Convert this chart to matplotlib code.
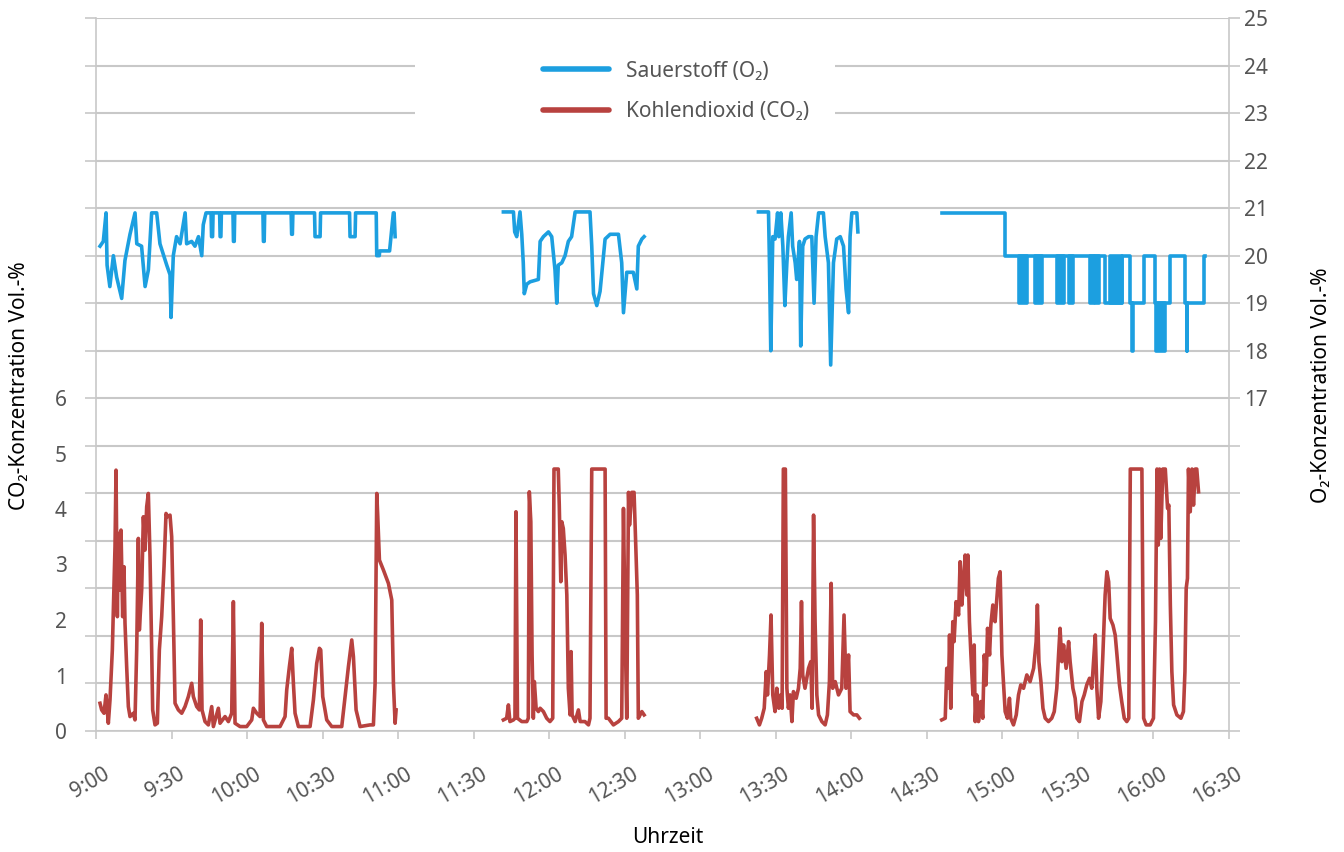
"""
Sauerstoff- und Kohlendioxid-Konzentration im Tagesverlauf.
"""

import matplotlib
matplotlib.use("Agg")
import matplotlib.pyplot as plt
from matplotlib.patches import Rectangle
from matplotlib.transforms import ScaledTranslation

plt.rcParams['font.family'] = ['Noto Sans', 'DejaVu Sans']

# Zeit in Minuten nach 9:00 Uhr
zeit_ticks = list(range(0, 451, 30))
zeit_labels = ["9:00", "9:30", "10:00", "10:30", "11:00", "11:30", "12:00", "12:30",
               "13:00", "13:30", "14:00", "14:30", "15:00", "15:30", "16:00", "16:30"]

# --- Sauerstoff (O2), Vol.-% ---
o2_t1 = [1.6, 2.9, 4.0, 4.4, 5.5, 6.9, 8.2, 10.2, 11.5, 13.5, 15.5, 16.2, 18.1, 19.5,
         20.8, 22.1, 24.1, 25.4, 28.1, 29.4, 29.8, 30.7, 32.0, 33.4, 35.4, 36.0, 38.0,
         39.3, 40.7, 42.0, 42.6, 43.7, 45.7, 45.9, 46.3, 46.5, 49.1, 49.3, 49.6, 49.8,
         54.4, 54.6, 54.9, 55.1, 66.3, 66.5, 66.8, 67.0, 77.5, 77.7, 78.0, 78.2, 86.8,
         87.0, 89.0, 89.2, 100.7, 100.9, 102.9, 103.1, 111.3, 111.5, 112.5, 112.7,
         116.6, 118.1, 118.4, 118.8]
o2_v1 = [20.2, 20.3, 20.9, 19.8, 19.35, 20.0, 19.55, 19.1, 19.9, 20.45, 20.9, 20.25,
         20.2, 19.35, 19.7, 20.9, 20.9, 20.25, 19.8, 19.6, 18.7, 20.0, 20.4, 20.25,
         20.9, 20.25, 20.3, 20.2, 20.4, 20.0, 20.65, 20.9, 20.9, 20.4, 20.4, 20.9,
         20.9, 20.4, 20.4, 20.9, 20.9, 20.3, 20.3, 20.9, 20.9, 20.3, 20.3, 20.9, 20.9,
         20.45, 20.45, 20.9, 20.9, 20.4, 20.4, 20.9, 20.9, 20.4, 20.4, 20.9, 20.9,
         20.0, 20.0, 20.1, 20.1, 20.9, 20.9, 20.4]

o2_t2 = [161.8, 165.8, 166.3, 167.1, 168.4, 169.1, 169.7, 170.1, 171.1, 172.4, 175.7,
         176.4, 177.7, 179.7, 181.0, 182.3, 183.0, 183.6, 185.0, 186.3, 187.6, 188.9,
         190.3, 196.2, 196.9, 197.6, 198.9, 200.2, 202.2, 204.2, 207.5, 208.8, 209.5,
         210.8, 212.1, 213.4, 214.8, 215.4, 216.8, 217.7]
o2_v2 = [20.92, 20.92, 20.5, 20.4, 20.92, 20.45, 19.85, 19.2, 19.4, 19.45, 19.5, 20.3,
         20.4, 20.5, 20.4, 19.7, 19.0, 19.8, 19.85, 20.0, 20.3, 20.4, 20.92, 20.92,
         20.2, 19.2, 18.95, 19.25, 20.35, 20.45, 20.45, 19.85, 18.8, 19.65, 19.65,
         19.65, 19.3, 20.2, 20.35, 20.4]

o2_t3 = [263.1, 267.1, 267.5, 268.0, 268.8, 269.7, 270.7, 271.2, 272.0, 272.8, 273.6,
         274.4, 275.0, 276.1, 276.7, 277.7, 278.3, 279.4, 279.9, 280.7, 281.6, 283.0,
         284.3, 285.2, 286.0, 287.0, 288.9, 289.6, 290.9, 291.8, 292.9, 294.2, 295.6,
         296.9, 297.9, 298.9, 299.5, 300.2, 302.2, 302.6]
o2_v3 = [20.92, 20.92, 19.8, 18.0, 20.4, 20.35, 20.9, 20.4, 20.9, 20.2, 18.95, 19.85,
         20.4, 20.9, 20.2, 19.85, 19.5, 20.3, 18.1, 20.2, 20.35, 20.4, 20.4, 19.0, 20.4,
         20.9, 20.9, 20.4, 19.85, 17.7, 19.85, 20.35, 20.4, 20.2, 19.3, 18.8, 20.4,
         20.9, 20.9, 20.5]

# Segment 4 als Treppenkurve
o2_t4 = [335.9, 361.1, 400.8, 407.4, 410.8, 411.4, 411.7, 416.1, 420.7, 426.7, 432.6,
         433.2, 433.5, 439.9, 440.6]
o2_v4 = [20.9, 20.0, 19.0, 20.0, 19.0, 18.0, 19.0, 20.0, 19.0, 20.0, 19.0, 18.0, 19.0,
         20.0, 20.0]
# dicht schwankende Abschnitte (erscheinen als gefuellte Bloecke)
o2_blk_start = [366.4, 373.0, 381.6, 386.3, 394.9, 396.9, 402.8, 421.1]
o2_blk_end = [369.7, 375.7, 384.3, 388.2, 396.2, 398.2, 407.4, 424.7]
o2_blk_low = [19.0, 19.0, 19.0, 19.0, 19.0, 19.0, 19.0, 18.0]
o2_blk_high = [20.0, 20.0, 20.0, 20.0, 20.0, 20.0, 20.0, 19.0]

# --- Kohlendioxid (CO2), Vol.-% ---
co2_t1 = [1.59, 2.25, 3.18, 3.97, 4.90, 5.56, 6.49, 6.89, 7.55, 7.95, 8.48, 8.87, 9.54,
          9.93, 10.59, 11.12, 11.52, 12.18, 12.85, 13.51, 14.83, 15.49, 16.16, 16.82,
          17.22, 18.14, 18.81, 19.47, 20.13, 20.79, 21.45, 22.12, 22.51, 23.44, 24.37,
          25.16, 26.09, 27.02, 27.81, 28.34, 29.40, 30.06, 30.72, 31.39, 32.71, 34.04,
          35.36, 36.68, 38.01, 38.67, 39.99, 41.05, 41.58, 42.11, 43.30, 44.63, 45.95,
          46.62, 48.60, 49.26, 51.25, 52.58, 53.90, 54.56, 55.22, 57.21, 59.86, 61.85,
          62.51, 63.83, 65.16, 65.82, 66.48, 67.80, 73.10, 75.09, 75.75, 76.81, 77.74,
          78.40, 79.06, 80.39, 85.02, 86.35, 87.67, 88.73, 89.26, 90.05, 91.64, 93.63,
          97.60, 98.93, 100.25, 101.58, 102.24, 103.30, 104.89, 108.86, 110.18, 110.85,
          111.51, 111.91, 112.57, 114.16, 116.14, 117.47, 118.13, 118.79, 119.19]
co2_v1 = [0.50, 0.38, 0.32, 0.65, 0.14, 0.56, 1.46, 2.18, 3.32, 4.70, 2.06, 3.56, 2.54,
          3.62, 2.06, 2.96, 1.94, 1.16, 0.44, 0.26, 0.32, 0.20, 1.46, 3.47, 1.82, 2.54,
          3.86, 3.26, 4.04, 4.28, 3.14, 1.46, 0.38, 0.11, 0.14, 1.46, 2.06, 2.96, 3.92,
          3.86, 3.89, 3.50, 2.06, 0.50, 0.38, 0.32, 0.44, 0.62, 0.86, 0.62, 0.44, 0.38,
          2.00, 0.38, 0.17, 0.11, 0.44, 0.08, 0.41, 0.14, 0.26, 0.17, 0.32, 2.33, 0.14,
          0.08, 0.08, 0.20, 0.41, 0.32, 0.26, 1.94, 0.20, 0.08, 0.08, 0.26, 0.74, 1.16,
          1.49, 0.86, 0.32, 0.08, 0.08, 0.56, 1.22, 1.49, 1.46, 0.62, 0.20, 0.08, 0.08,
          0.62, 1.16, 1.64, 1.34, 0.38, 0.08, 0.11, 0.11, 0.86, 4.28, 3.86, 3.08, 2.90,
          2.66, 2.36, 0.86, 0.14, 0.38]

co2_t2 = [161.8, 163.1, 163.8, 164.4, 165.8, 166.4, 166.8, 167.4, 169.1, 171.1, 171.7,
          172.1, 172.7, 173.2, 173.7, 174.1, 174.8, 175.7, 176.4, 177.7, 179.0, 180.3,
          181.4, 181.9, 183.6, 184.0, 184.6, 185.0, 185.6, 186.3, 187.0, 187.6, 188.3,
          188.7, 189.1, 190.3, 191.6, 192.3, 194.2, 195.6, 196.2, 196.9, 202.2, 202.6,
          203.5, 205.5, 207.5, 208.8, 209.5, 210.1, 210.8, 211.5, 211.9, 212.8, 213.7,
          214.5, 215.0, 215.4, 216.1, 216.8, 217.7]
co2_v2 = [0.20, 0.23, 0.47, 0.17, 0.20, 0.23, 3.95, 0.23, 0.17, 0.17, 0.23, 4.31, 3.77,
          1.37, 0.23, 0.89, 0.41, 0.35, 0.41, 0.35, 0.23, 0.17, 0.23, 4.72, 4.72, 4.07,
          2.69, 3.77, 3.65, 3.17, 2.45, 0.77, 0.29, 1.43, 0.29, 0.17, 0.38, 0.17, 0.17,
          0.11, 0.23, 4.72, 4.72, 0.23, 0.23, 0.11, 0.17, 0.23, 4.01, 1.97, 0.23, 4.30,
          3.71, 4.30, 4.30, 3.17, 2.45, 0.23, 0.29, 0.35, 0.29]

co2_t3 = [262.4, 263.5, 264.4, 265.4, 266.2, 266.7, 267.5, 268.1, 268.8, 269.7, 270.4,
          271.2, 272.0, 272.5, 273.0, 273.8, 274.4, 275.0, 275.7, 276.4, 277.0, 278.1,
          279.0, 279.7, 280.2, 280.7, 281.6, 283.0, 283.9, 284.4, 285.0, 285.6, 286.3,
          287.0, 288.3, 289.6, 290.5, 291.3, 292.0, 292.6, 293.6, 294.9, 296.2, 297.1,
          297.9, 298.9, 299.5, 300.9, 302.2, 303.2]
co2_v3 = [0.23, 0.11, 0.23, 0.41, 1.07, 0.65, 1.37, 2.09, 0.65, 0.35, 0.77, 0.41, 0.65,
          0.41, 4.72, 4.72, 0.77, 0.41, 0.65, 0.17, 0.71, 0.59, 0.77, 1.13, 2.33, 1.01,
          0.77, 1.13, 1.25, 0.41, 3.89, 1.97, 0.65, 0.29, 0.17, 0.11, 0.29, 0.89, 2.66,
          0.77, 0.89, 0.65, 0.77, 2.09, 0.77, 1.37, 0.35, 0.29, 0.29, 0.23]

co2_t4 = [335.9, 337.3, 337.9, 338.6, 339.0, 339.5, 340.3, 340.8, 341.6, 342.6, 343.2,
          343.9, 344.5, 345.2, 345.9, 346.3, 346.9, 347.5, 348.3, 348.8, 349.2, 349.8,
          350.5, 351.4, 352.2, 352.8, 353.5, 354.1, 354.9, 355.4, 356.2, 357.1, 357.8,
          358.4, 359.1, 359.8, 360.4, 361.1, 362.0, 362.8, 363.3, 364.4, 365.5, 366.4,
          367.3, 368.4, 369.7, 371.0, 372.4, 373.4, 373.9, 374.5, 375.3, 376.1, 377.0,
          378.3, 379.6, 380.6, 381.6, 382.3, 382.9, 383.6, 384.3, 385.3, 386.3, 386.9,
          388.0, 388.9, 389.6, 390.6, 391.6, 392.5, 393.5, 394.6, 395.5, 396.2, 396.9,
          397.5, 398.2, 399.1, 399.9, 400.8, 401.5, 402.2, 402.8, 403.9, 404.8, 405.5,
          406.5, 407.4, 408.4, 409.4, 410.2, 410.8, 415.4, 416.1, 417.1, 418.7, 420.0,
          420.8, 421.4, 421.9, 422.4, 422.9, 423.7, 424.7, 425.6, 426.1, 426.7, 427.3,
          428.0, 429.3, 430.9, 431.9, 432.5, 433.0, 433.5, 433.9, 434.6, 435.3, 435.9,
          436.6, 437.2, 437.9]
co2_v4 = [0.20, 0.23, 1.13, 0.77, 1.73, 0.41, 1.97, 1.61, 2.33, 2.09, 3.05, 2.27, 2.69,
          3.17, 2.45, 3.17, 1.97, 1.37, 0.65, 1.55, 0.17, 0.65, 0.17, 0.53, 0.23, 1.37,
          0.83, 1.85, 1.37, 1.91, 2.27, 1.97, 2.39, 2.75, 2.87, 1.37, 0.89, 0.35, 0.23,
          0.59, 0.23, 0.11, 0.29, 0.65, 0.83, 0.77, 1.01, 0.89, 1.13, 1.61, 2.27, 1.25,
          0.89, 0.41, 0.23, 0.17, 0.23, 0.35, 0.77, 1.37, 1.85, 1.25, 1.55, 1.13, 1.61,
          1.25, 0.77, 0.59, 0.23, 0.17, 0.53, 0.65, 0.83, 0.95, 0.77, 1.25, 1.73, 0.77,
          0.23, 0.53, 1.37, 2.45, 2.87, 2.69, 2.03, 1.91, 1.73, 1.37, 0.83, 0.53, 0.23,
          0.17, 0.23, 4.72, 4.72, 0.23, 0.11, 0.11, 0.23, 1.97, 4.72, 3.35, 4.72, 3.47,
          4.72, 4.72, 4.01, 4.07, 2.27, 1.07, 0.47, 0.29, 0.23, 0.35, 1.07, 2.57, 2.75,
          4.72, 3.95, 4.72, 4.07, 4.72, 4.72, 4.31]

# Farben
blau = '#1c9fe0'
rot = '#b8423f'
grau = '#c8c8c8'
text_grau = '#555555'
fs = 15

fig = plt.figure(figsize=(13.44, 8.52), dpi=100)
ax = fig.add_axes([96 / 1344, 1 - 731 / 852, 1133 / 1344, 713 / 852])
# Zweitachse fuer CO2 zuerst anlegen (twinx setzt die Ticks der Hauptachse um)
ax_co2 = ax.twinx()

# Hauptachse: O2 (rechts), traegt auch die Gitterlinien
ax.set_xlim(0, 450)
ax.set_ylim(10, 25)
ax.set_yticks(range(10, 26))
ax.set_yticklabels([str(v) if v >= 17 else '' for v in range(10, 26)])
ax.yaxis.set_ticks_position('both')
ax.tick_params(axis='y', which='major', left=True, right=True, labelleft=False,
               labelright=True, length=8, width=1.2, color=grau, labelcolor=text_grau,
               labelsize=fs, pad=3)
ax.grid(axis='y', color=grau, linewidth=1.5)
ax.set_xticks(zeit_ticks)
ax.set_xticklabels(zeit_labels, rotation=30, ha='right', va='center',
                   rotation_mode='anchor')
ax.tick_params(axis='x', length=6, width=1.2, color=grau, labelcolor=text_grau,
               labelsize=fs, pad=24)
versatz = ScaledTranslation(12 / 100, 0, fig.dpi_scale_trans)
for lbl in ax.get_xticklabels():
    lbl.set_transform(lbl.get_transform() + versatz)
ax.spines['top'].set_visible(False)
for s in ['left', 'right', 'bottom']:
    ax.spines[s].set_color(grau)
    ax.spines[s].set_linewidth(1.2)

ax.yaxis.set_label_position('right')
ax.set_ylabel("O₂-Konzentration Vol.-%", fontsize=fs, color='black', rotation=90)
ax.yaxis.set_label_coords(1.072, 0.485)
ax.set_xlabel("Uhrzeit", fontsize=fs, color='black')
ax.xaxis.set_label_coords(0.505, -0.135)

# weisser Hintergrund der Legende
ax.add_patch(Rectangle((0.2816, 0.836), 0.3707, 0.133, transform=ax.transAxes,
                       facecolor='white', edgecolor='none', zorder=1.8))

lw = 2.6
linie_o2, = ax.plot(o2_t1, o2_v1, color=blau, lw=lw, zorder=3)
ax.plot(o2_t2, o2_v2, color=blau, lw=lw, zorder=3)
ax.plot(o2_t3, o2_v3, color=blau, lw=lw, zorder=3)
ax.step(o2_t4, o2_v4, where='post', color=blau, lw=lw, zorder=3)
for s, e, lo, hi in zip(o2_blk_start, o2_blk_end, o2_blk_low, o2_blk_high):
    ax.fill_between([s, e], [lo, lo], [hi, hi], color=blau, lw=lw, zorder=3)

# Zweitachse: CO2 (links)
ax_co2.yaxis.set_label_position('left')
ax_co2.set_ylim(0, 713 / 55.5)
ax_co2.set_yticks(range(0, 7))
ax_co2.tick_params(axis='y', left=False, right=False, labelleft=True, labelright=False,
                   length=0, labelcolor=text_grau, labelsize=fs, pad=21)
for s in ax_co2.spines.values():
    s.set_visible(False)
ax_co2.set_ylabel("CO₂-Konzentration Vol.-%", fontsize=fs, color='black')
ax_co2.yaxis.set_label_coords(-0.058, 0.485)

linie_co2, = ax_co2.plot(co2_t1, co2_v1, color=rot, lw=lw)
ax_co2.plot(co2_t2, co2_v2, color=rot, lw=lw)
ax_co2.plot(co2_t3, co2_v3, color=rot, lw=lw)
ax_co2.plot(co2_t4, co2_v4, color=rot, lw=lw)

leg = ax_co2.legend([linie_o2, linie_co2], ["Sauerstoff (O₂)", "Kohlendioxid (CO₂)"],
                    loc='upper left', bbox_to_anchor=(0.385, 0.955), frameon=False,
                    fontsize=fs, handlelength=3.2, handletextpad=0.8,
                    labelspacing=0.95, borderpad=0, labelcolor=text_grau)
for h in leg.legend_handles:
    h.set_linewidth(4)
    h.set_solid_capstyle('round')

fig.savefig('out.png', dpi=100)
